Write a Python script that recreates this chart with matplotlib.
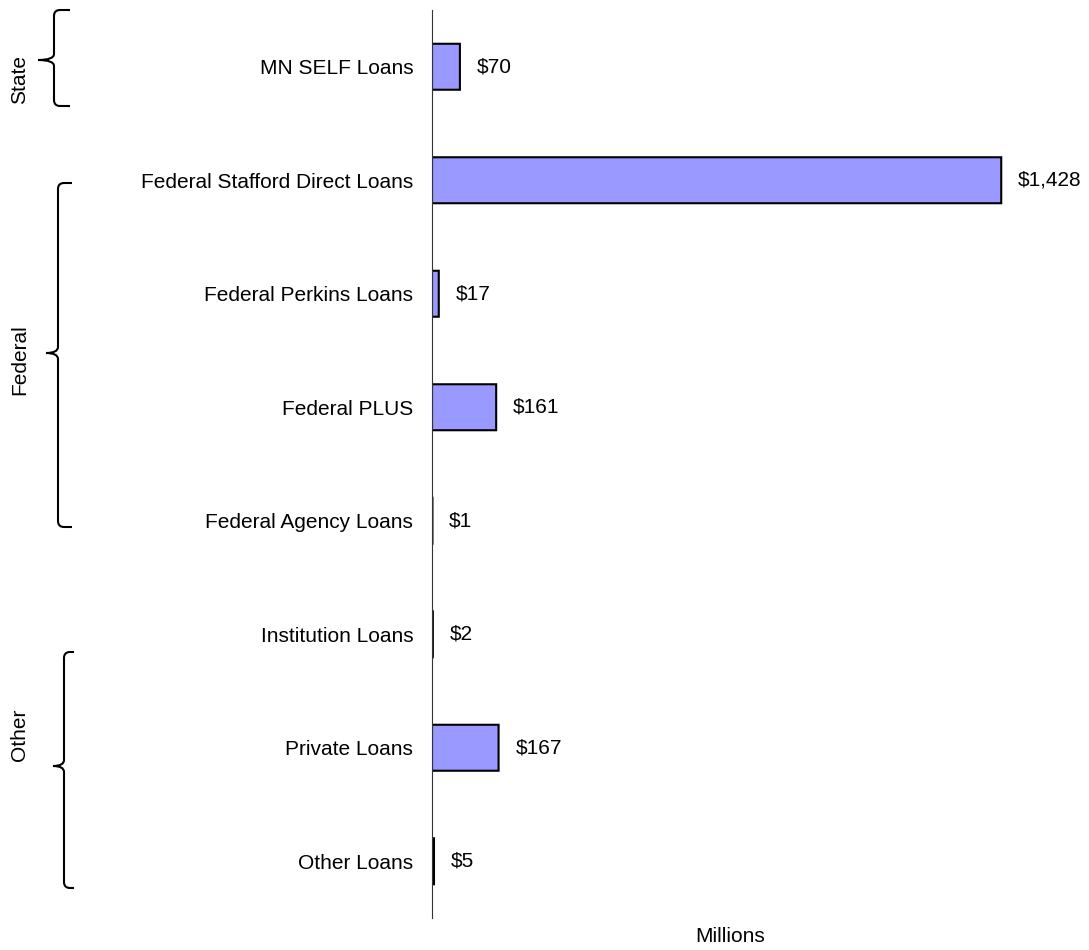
import matplotlib.pyplot as plt
from matplotlib.path import Path
from matplotlib.patches import PathPatch

plt.rcParams['font.family'] = ['Liberation Sans', 'DejaVu Sans']

# Loan types (top to bottom) and amounts in millions of dollars
loan_types = ['MN SELF Loans', 'Federal Stafford Direct Loans', 'Federal Perkins Loans',
              'Federal PLUS', 'Federal Agency Loans', 'Institution Loans',
              'Private Loans', 'Other Loans']
amounts = [70, 1428, 17, 161, 1, 2, 167, 5]
groups = ['State', 'Federal', 'Other']

W, H = 1089, 950
FS = 15
fig = plt.figure(figsize=(W / 100, H / 100), dpi=100)
ax = fig.add_axes([432 / W, 32 / H, (1069 - 432) / W, 908 / H])

pos = list(range(len(loan_types)))
ax.barh(pos, amounts, height=0.405, color='#9999FF', edgecolor='black',
        linewidth=1.5, snap=False)
for p, v in zip(pos, amounts):
    ax.text(v + 42, p, f'${v:,}', va='center', ha='left', fontsize=FS)

ax.set_ylim(len(loan_types) - 0.5, -0.5)
ax.set_xlim(0, 1598)
ax.set_yticks(pos)
ax.set_yticklabels(loan_types, fontsize=FS)
ax.tick_params(axis='y', length=0, pad=13.5)
ax.set_xticks([])
for s in ['top', 'right', 'bottom']:
    ax.spines[s].set_visible(False)
ax.spines['left'].set_linewidth(0.8)
ax.spines['left'].set_color('#333333')

fig.text(730 / W, 1 - 937 / H, 'Millions', ha='center', va='center', fontsize=FS)


# curly brackets, drawn in pixel positions of the figure
def brace(xv, ytop, ybot, xtip, ytip, xend, r=6):
    pts = [(xend, ytop), (xv + r, ytop), (xv, ytop), (xv, ytop + r),
           (xv, ytip - r), (xv, ytip), (xtip, ytip),
           (xv, ytip), (xv, ytip + r),
           (xv, ybot - r), (xv, ybot), (xv + r, ybot), (xend, ybot)]
    codes = [Path.MOVETO, Path.LINETO, Path.CURVE3, Path.CURVE3,
             Path.LINETO, Path.CURVE3, Path.CURVE3,
             Path.CURVE3, Path.CURVE3,
             Path.LINETO, Path.CURVE3, Path.CURVE3, Path.LINETO]
    pts = [(x / 100, (H - y) / 100) for x, y in pts]
    fig.add_artist(PathPatch(Path(pts, codes), fill=False, lw=1.5, color='black',
                             transform=fig.dpi_scale_trans))


brace(54, 10, 106, 38, 60, 70)
brace(58, 183, 527, 46, 353, 72)
brace(64, 652, 888, 53, 766, 74)

for name, yc in zip(groups, [80, 360, 735]):
    fig.text(20 / W, 1 - yc / H, name, rotation=90, ha='center', va='center', fontsize=FS)

fig.savefig('out.png', dpi=100)
